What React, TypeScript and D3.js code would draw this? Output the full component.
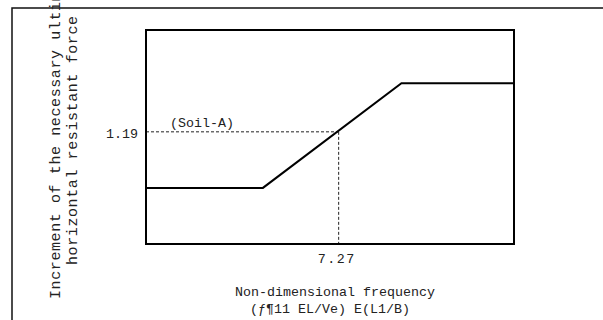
import React, { useEffect, useRef } from "react";
import * as d3 from "d3";

// frequency breakpoints and the increment they give (Soil-A)
const freq = [4.6, 6.22, 8.14, 9.7];
const increment = [1.0, 1.0, 1.355, 1.355];
const xDomain = [4.6, 9.7];
const yDomain = [0.81, 1.535];
const markFreq = 7.27;
const markInc = 1.19;
const seriesLabel = "(Soil-A)";
const yTitle = ["Increment of the necessary ultimate", "horizontal resistant force"];
const xTitle = ["Non-dimensional frequency", "(\u0192\u00b611 EL/Ve) E(L1/B)"];

const W = 603;
const H = 320;
const box = { left: 146, top: 30, right: 514, bottom: 244 };
const font = "'Liberation Mono', 'Courier New', monospace";

function App() {
    const svgRef = useRef<SVGSVGElement | null>(null);

    useEffect(() => {
        const svg = d3.select(svgRef.current);
        svg.selectAll("*").remove();

        const x = d3.scaleLinear().domain(xDomain).range([box.left, box.right]);
        const y = d3.scaleLinear().domain(yDomain).range([box.bottom, box.top]);

        // outer frame (runs off the right and bottom)
        svg.append("rect")
            .attr("x", 12).attr("y", 8)
            .attr("width", W).attr("height", H)
            .attr("fill", "none").attr("stroke", "#111").attr("stroke-width", 1.5);

        // reading lines
        svg.append("line")
            .attr("x1", x(xDomain[0])).attr("x2", x(markFreq))
            .attr("y1", y(markInc)).attr("y2", y(markInc))
            .attr("stroke", "#222").attr("stroke-width", 1).attr("stroke-dasharray", "3,2");
        svg.append("line")
            .attr("x1", x(markFreq)).attr("x2", x(markFreq))
            .attr("y1", y(markInc)).attr("y2", y(yDomain[0]))
            .attr("stroke", "#222").attr("stroke-width", 1).attr("stroke-dasharray", "3,2");

        // plot box
        svg.append("rect")
            .attr("x", box.left).attr("y", box.top)
            .attr("width", box.right - box.left).attr("height", box.bottom - box.top)
            .attr("fill", "none").attr("stroke", "#000").attr("stroke-width", 2);

        const line = d3.line<number>().x((d, i) => x(freq[i])).y((d) => y(d));
        svg.append("path")
            .attr("d", line(increment))
            .attr("fill", "none").attr("stroke", "#000").attr("stroke-width", 2);

        const txt = (s: string) => svg.append("text")
            .text(s)
            .attr("font-family", font).attr("font-size", 13.33).attr("fill", "#222");

        txt(markInc.toFixed(2)).attr("x", box.left - 8).attr("y", y(markInc) + 6.5).attr("text-anchor", "end");
        txt(markFreq.toFixed(2)).attr("x", x(markFreq) - 2).attr("y", 263).attr("text-anchor", "middle").attr("letter-spacing", 1.5);
        txt(seriesLabel).attr("x", 170).attr("y", y(markInc) - 5);

        txt(xTitle[0]).attr("x", 235).attr("y", 296);
        txt(xTitle[1]).attr("x", 250).attr("y", 313);

        // y title, read bottom to top (the first line runs past the top, as in the source)
        txt(yTitle[0]).attr("transform", "translate(60,299) rotate(-90)")
            .attr("font-size", 15).attr("letter-spacing", 0.6);
        txt(yTitle[1]).attr("transform", "translate(77,265) rotate(-90)")
            .attr("font-size", 15).attr("letter-spacing", 0.6);
    }, []);

    return (
        <svg ref={svgRef} width={W} height={H}
            style={{ position: "absolute", left: 0, top: 0, background: "#fff" }}></svg>
    );
}

export default App;
